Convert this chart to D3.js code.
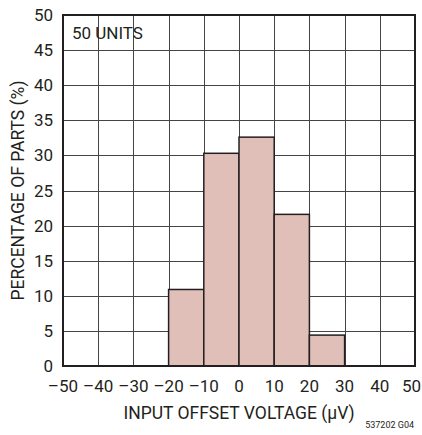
<!DOCTYPE html>
<html><head><meta charset="utf-8">
<script src="https://cdn.jsdelivr.net/npm/d3@7"></script>
<style>
body{margin:0;background:#fff;}
text{font-family:Roboto,"Liberation Sans",sans-serif;fill:#231f20;}
</style></head>
<body>
<svg id="c" width="422" height="435"></svg>
<script>
const binStarts = [-20, -10, 0, 10, 20];
const binWidth = 10;
const percentages = [10.9, 30.3, 32.6, 21.6, 4.4];
const xTicks = [-50, -40, -30, -20, -10, 0, 10, 20, 30, 40, 50];
const yTicks = [0, 5, 10, 15, 20, 25, 30, 35, 40, 45, 50];

const svg = d3.select("#c");
const m = {l: 63, t: 15, r: 415, b: 366};
const x = d3.scaleLinear().domain([-50, 50]).range([m.l, m.r]);
const y = d3.scaleLinear().domain([0, 50]).range([m.b, m.t]);
const fmt = d => d < 0 ? "\u2013" + Math.abs(d) : String(d);

// grid
const g = svg.append("g");
g.selectAll(".vx").data(xTicks.slice(1, -1)).join("line")
  .attr("x1", d => Math.round(x(d)) + 0.5).attr("x2", d => Math.round(x(d)) + 0.5)
  .attr("y1", m.t).attr("y2", m.b).attr("stroke", "#444").attr("stroke-width", 1);
g.selectAll(".hy").data(yTicks.slice(1, -1)).join("line")
  .attr("y1", d => Math.round(y(d)) + 0.5).attr("y2", d => Math.round(y(d)) + 0.5)
  .attr("x1", m.l).attr("x2", m.r).attr("stroke", "#444").attr("stroke-width", 1);

// bars
svg.append("g").selectAll("rect").data(binStarts).join("rect")
  .attr("x", (d) => x(d))
  .attr("width", d => x(d + binWidth) - x(d))
  .attr("y", (d, i) => y(percentages[i]))
  .attr("height", (d, i) => y(0) - y(percentages[i]))
  .attr("fill", "#e1bfb9").attr("stroke", "#231f20").attr("stroke-width", 1.5);

// frame
svg.append("rect").attr("x", m.l).attr("y", m.t).attr("width", m.r - m.l).attr("height", m.b - m.t)
  .attr("fill", "none").attr("stroke", "#231f20").attr("stroke-width", 2);

// tick labels
svg.append("g").selectAll("text").data(yTicks).join("text")
  .attr("x", 53).attr("y", d => y(d) + 6).attr("text-anchor", "end")
  .attr("font-size", 17).text(d => d);
svg.append("g").selectAll("text").data(xTicks).join("text")
  .attr("x", (d, i) => i === xTicks.length - 1 ? 421 : x(d)).attr("y", 392)
  .attr("text-anchor", (d, i) => i === xTicks.length - 1 ? "end" : "middle")
  .attr("font-size", 17).text(fmt);

// titles
svg.append("text").attr("x", (m.l + m.r) / 2).attr("y", 419).attr("text-anchor", "middle")
  .attr("font-size", 17.5).text("INPUT OFFSET VOLTAGE (\u00B5V)");
svg.append("text").attr("transform", `translate(24,${(m.t + m.b) / 2}) rotate(-90)`)
  .attr("text-anchor", "middle").attr("font-size", 17.5).text("PERCENTAGE OF PARTS (%)");
svg.append("text").attr("x", 72).attr("y", 39).attr("font-size", 17).text("50 UNITS");
svg.append("text").attr("x", 414).attr("y", 428).attr("text-anchor", "end")
  .attr("font-size", 9).text("537202 G04");
</script>
</body></html>
